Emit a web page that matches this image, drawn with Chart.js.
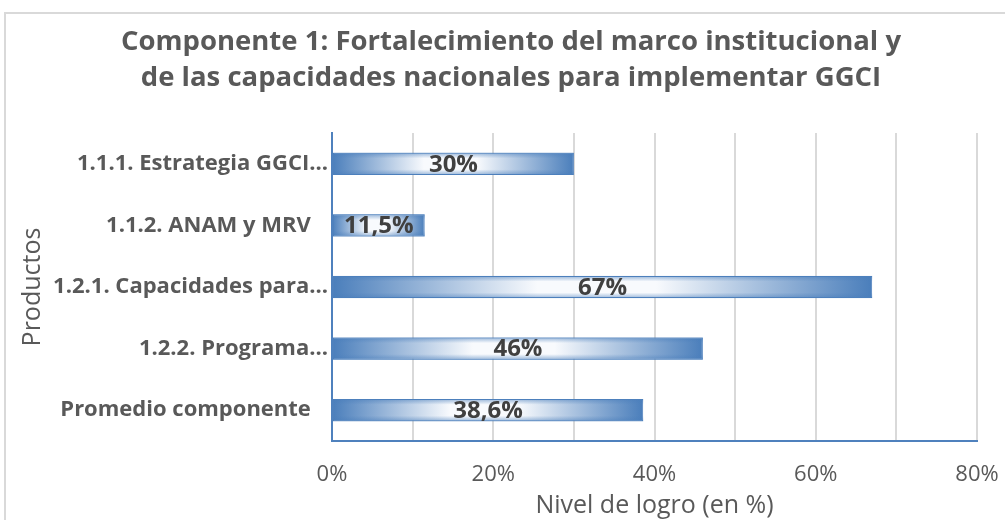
<!DOCTYPE html>
<html>
<head>
<meta charset="utf-8">
<script src="https://cdn.jsdelivr.net/npm/chart.js@4"></script>
<style>
    body { margin:0; background:#ffffff; overflow:hidden; }
    #chartBox { position:absolute; left:0; top:0; width:1005px; height:520px; }
    #frame { position:absolute; left:4px; top:12px; width:1100px; height:600px;
             border-left:2px solid #d9d9d9; border-top:2px solid #d9d9d9; }
</style>
</head>
<body>
<div id="frame"></div>
<div id="chartBox"><canvas id="myChart" width="1005" height="520"></canvas></div>
<script>
let chartTitle = ['Componente 1: Fortalecimiento del marco institucional y',
    'de las capacidades nacionales para implementar GGCI'];
let productos = ['1.1.1. Estrategia GGCI...', '1.1.2. ANAM y MRV   ', '1.2.1. Capacidades para...',
    '1.2.2. Programa...', 'Promedio componente   '];
let nivelLogro = [30, 11.5, 67, 46, 38.6];
let xTitle = 'Nivel de logro (en %)';
let yTitle = 'Productos';

document.addEventListener('DOMContentLoaded', createChart);

function barGradient(context){
    let chart = context.chart;
    let ctx = chart.ctx;
    if (!chart.chartArea) {
        return '#4f81bd';
    }
    let x = chart.scales.x;
    let x0 = x.getPixelForValue(0);
    let x1 = x.getPixelForValue(context.raw);
    if (x1 - x0 < 2) x1 = x0 + 2;
    let g = ctx.createLinearGradient(x0, 0, x1, 0);
    g.addColorStop(0, '#4a7ebb');
    g.addColorStop(0.38, '#f8fafd');
    g.addColorStop(0.6, '#f8fafd');
    g.addColorStop(1, '#4a7ebb');
    return g;
}

// soft blue band on the top and bottom of each bar, then the value in the middle
let valueLabels = {
    id: 'valueLabels',
    afterDatasetsDraw(chart){
        let ctx = chart.ctx;
        let meta = chart.getDatasetMeta(0);
        ctx.save();
        meta.data.forEach(bar => {
            let h = bar.height;
            let top = bar.y - h / 2;
            let g = ctx.createLinearGradient(0, top, 0, top + h);
            g.addColorStop(0, 'rgba(74,126,187,0.55)');
            g.addColorStop(0.25, 'rgba(74,126,187,0)');
            g.addColorStop(0.75, 'rgba(74,126,187,0)');
            g.addColorStop(1, 'rgba(74,126,187,0.55)');
            ctx.fillStyle = g;
            ctx.fillRect(bar.base, top, bar.x - bar.base, h);
        });
        ctx.font = 'bold 24px "Open Sans"';
        ctx.fillStyle = '#404040';
        ctx.textAlign = 'center';
        ctx.textBaseline = 'middle';
        meta.data.forEach((bar, i) => {
            let text = String(nivelLogro[i]).replace('.', ',') + '%';
            ctx.fillText(text, (bar.base + bar.x) / 2, bar.y + 1);
        });
        ctx.restore();
    }
};

function createChart(){
    let ctx = document.getElementById('myChart');

    let data = {
        labels: productos,
        datasets: [{
            label: 'Nivel de logro',
            data: nivelLogro,
            backgroundColor: barGradient,
            borderColor: '#4f81bd',
            borderWidth: 1,
            borderSkipped: false,
            categoryPercentage: 1,
            barPercentage: 0.36
        }]
    };

    let config = {
        type: 'bar',
        data: data,
        plugins: [valueLabels],
        options: {
            indexAxis: 'y',
            responsive: false,
            animation: false,
            layout: {
                padding: {left: 45, right: 28, top: 0, bottom: 0}
            },
            plugins: {
                legend: {display: false},
                tooltip: {enabled: false},
                title: {
                    display: true,
                    text: chartTitle,
                    color: '#595959',
                    font: {family: '"Open Sans"', weight: 'bold', size: 27.5, lineHeight: 1.31},
                    padding: {top: 24, bottom: 37}
                }
            },
            scales: {
                x: {
                    min: 0,
                    max: 80,
                    ticks: {
                        stepSize: 10,
                        padding: 21,
                        color: '#595959',
                        font: {family: '"Open Sans"', size: 22},
                        callback: v => (v % 20 === 0 ? v + '%' : '')
                    },
                    grid: {color: '#d9d9d9', lineWidth: 2, drawTicks: false},
                    border: {color: '#4f81bd', width: 2},
                    title: {
                        display: true,
                        text: xTitle,
                        color: '#595959',
                        font: {family: '"Open Sans"', size: 25},
                        padding: {top: 0, bottom: -1}
                    },
                    afterFit: scale => {
                        scale.height = 79;
                        scale.paddingLeft = 0;
                        scale.paddingRight = 0;
                    }
                },
                y: {
                    ticks: {
                        padding: 4,
                        color: '#595959',
                        font: {family: '"Open Sans"', weight: 'bold', size: 22}
                    },
                    grid: {display: false, drawTicks: false},
                    border: {color: '#4f81bd', width: 2},
                    title: {
                        display: true,
                        text: yTitle,
                        color: '#595959',
                        font: {family: '"Open Sans"', size: 25},
                        padding: {top: -27, bottom: 0}
                    },
                    afterFit: scale => { scale.width = 287; }
                }
            }
        }
    };

    new Chart(ctx, config);
}
</script>
</body>
</html>
